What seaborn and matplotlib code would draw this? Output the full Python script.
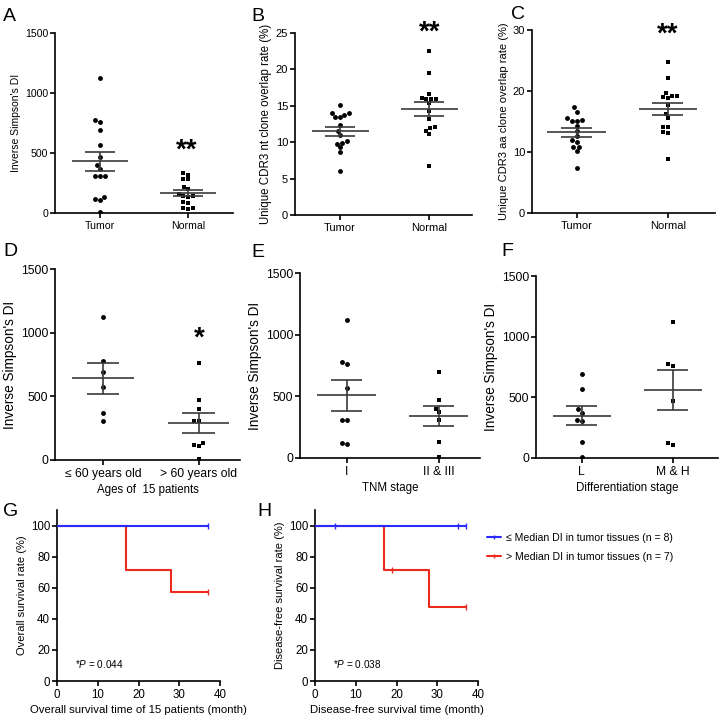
import numpy as np
import pandas as pd
import matplotlib
matplotlib.use("Agg")
import matplotlib.pyplot as plt
from matplotlib.lines import Line2D
import seaborn as sns

# ---------------- data ----------------
groups_tn = ["Tumor", "Normal"]
a_tumor = [1121, 775, 760, 695, 570, 470, 400, 370, 310, 310, 305, 130, 120, 110, 10]
a_normal = [330, 320, 285, 280, 215, 200, 160, 145, 140, 135, 90, 80, 45, 40, 35]
b_tumor = [15.1, 14.0, 13.5, 13.4, 13.8, 14.0, 12.3, 11.6, 11.0, 10.2, 9.8, 9.9, 9.3, 8.6, 6.0]
b_normal = [22.5, 19.5, 16.1, 15.9, 16.6, 16.0, 16.0, 15.4, 14.3, 13.2, 12.0, 11.6, 12.1, 11.1, 6.7]
c_tumor = [17.3, 15.1, 16.6, 15.1, 15.5, 15.2, 14.3, 13.5, 12.7, 12.0, 11.7, 10.8, 10.9, 10.2, 7.3]
c_normal = [24.8, 22.1, 19.2, 19.0, 18.9, 19.2, 19.6, 17.7, 16.3, 15.6, 14.1, 14.1, 13.2, 13.1, 8.9]

groups_age = ["\u2264 60 years old", "> 60 years old"]
d_young = [1121, 775, 695, 570, 370, 310]
d_old = [760, 470, 400, 310, 305, 130, 120, 110, 10]

groups_tnm = ["I", "II & III"]
e_I = [1121, 775, 760, 570, 310, 310, 120, 110]
e_II = [695, 470, 400, 370, 310, 130, 10]

groups_diff = ["L", "M & H"]
f_L = [695, 570, 400, 370, 310, 305, 130, 10]
f_MH = [1121, 775, 760, 470, 120, 110]

# Kaplan-Meier step points (time in months, survival %)
g_low_t, g_low_s = [0, 37], [100, 100]
g_high_t, g_high_s = [0, 17, 28, 37], [100, 71.4, 57.1, 57.1]
g_low_cens_t, g_low_cens_s = [37], [100]
g_high_cens_t, g_high_cens_s = [37], [57.1]

h_low_t, h_low_s = [0, 37], [100, 100]
h_high_t, h_high_s = [0, 17, 28, 37], [100, 71.4, 47.6, 47.6]
h_low_cens_t, h_low_cens_s = [5, 35, 37], [100, 100, 100]
h_high_cens_t, h_high_cens_s = [19, 37], [71.4, 47.6]

legend_labels = ["\u2264 Median DI in tumor tissues (n = 8)",
                 "> Median DI in tumor tissues (n = 7)"]

# ---------------- style ----------------
sns.set_theme(style="ticks")
plt.rcParams["font.family"] = ["Liberation Sans", "DejaVu Sans"]
plt.rcParams.update({
    "axes.linewidth": 1.2,
    "axes.edgecolor": "black",
    "xtick.major.width": 1.2,
    "ytick.major.width": 1.2,
    "xtick.major.size": 3.5,
    "ytick.major.size": 3.5,
    "xtick.major.pad": 2,
    "ytick.major.pad": 1.5,
    "xtick.labelsize": 8,
    "ytick.labelsize": 8,
    "xtick.color": "black",
    "ytick.color": "black",
    "axes.labelcolor": "black",
    "text.color": "black",
    "mathtext.fontset": "custom",
    "mathtext.it": "Liberation Sans:italic",
    "mathtext.rm": "Liberation Sans",
})

W, H = 720, 716
fig = plt.figure(figsize=(W / 100, H / 100), dpi=100)


def px_axes(l, t, r, b):
    return fig.add_axes([l / W, 1 - b / H, (r - l) / W, (b - t) / H])


LINE_C = "#3a3a3a"


def dot_panel(ax, groups, g1, g2, ylim, yticks, ylabel, xlim, xlabel=None,
              tick_fs=8, ylabel_fs=8, xlabel_fs=8.3):
    df1 = pd.DataFrame({"group": groups[0], "value": g1})
    df2 = pd.DataFrame({"group": groups[1], "value": g2})
    sns.swarmplot(data=df1, x="group", y="value", order=groups, ax=ax,
                  color="black", marker="o", size=3.5, linewidth=0)
    sns.swarmplot(data=df2, x="group", y="value", order=groups, ax=ax,
                  color="black", marker="s", size=3.3, linewidth=0)
    for i, vals in enumerate([g1, g2]):
        v = np.asarray(vals, dtype=float)
        m = v.mean()
        se = v.std(ddof=1) / np.sqrt(len(v))
        ax.hlines(m, i - 0.32, i + 0.32, color=LINE_C, lw=1.2, zorder=3)
        ax.hlines([m - se, m + se], i - 0.17, i + 0.17, color=LINE_C, lw=1.2, zorder=3)
        ax.vlines(i, m - se, m + se, color=LINE_C, lw=1.2, zorder=3)
    ax.set_ylim(*ylim)
    ax.set_yticks(yticks)
    ax.set_xlim(*xlim)
    ax.tick_params(labelsize=tick_fs)
    ax.set_ylabel(ylabel, fontsize=ylabel_fs, labelpad=3)
    ax.set_xlabel(xlabel if xlabel else "", fontsize=xlabel_fs, labelpad=3)
    sns.despine(ax=ax)


axA = px_axes(55, 33, 233, 213)
dot_panel(axA, groups_tn, a_tumor, a_normal, (0, 1500), [0, 500, 1000, 1500],
          "Inverse Simpson's DI", (-0.51, 1.51), tick_fs=7.6, ylabel_fs=7.5)
axB = px_axes(295, 33, 472, 215)
dot_panel(axB, groups_tn, b_tumor, b_normal, (0, 25), [0, 5, 10, 15, 20, 25],
          "Unique CDR3 nt clone overlap rate (%)", (-0.506, 1.48),
          tick_fs=8, ylabel_fs=8.3)
axC = px_axes(532, 30, 715, 213)
dot_panel(axC, groups_tn, c_tumor, c_normal, (0, 30), [0, 10, 20, 30],
          "Unique CDR3 aa clone overlap rate (%)", (-0.49, 1.52),
          tick_fs=8, ylabel_fs=8)
axD = px_axes(55, 269, 240, 460)
dot_panel(axD, groups_age, d_young, d_old, (0, 1500), [0, 500, 1000, 1500],
          "Inverse Simpson's DI", (-0.5, 1.43), "Ages of  15 patients",
          tick_fs=8.7, ylabel_fs=9.8)
axE = px_axes(300, 273, 480, 458)
dot_panel(axE, groups_tnm, e_I, e_II, (0, 1500), [0, 500, 1000, 1500],
          "Inverse Simpson's DI", (-0.51, 1.45), "TNM stage",
          tick_fs=8.7, ylabel_fs=9.8)
axF = px_axes(536, 276, 718, 458)
dot_panel(axF, groups_diff, f_L, f_MH, (0, 1500), [0, 500, 1000, 1500],
          "Inverse Simpson's DI", (-0.505, 1.5), "Differentiation stage",
          tick_fs=8.7, ylabel_fs=9.8)

# significance stars
star_kw = dict(ha="center", va="center", fontsize=20, fontweight="bold",
               clip_on=False)
axA.text(0.98, 520, "**", **star_kw)
axB.text(1.0, 25.0, "**", **star_kw)
axC.text(1.0, 29.3, "**", **star_kw)
axD.text(1.0, 950, "*", **star_kw)

# ---------------- KM panels ----------------
BLUE = "#2b2bff"
RED = "#ee2a1e"


def km_panel(ax, lt, ls, ht, hs, lct, lcs, hct, hcs, ylabel, xlabel, ptext):
    sns.lineplot(x=lt, y=ls, ax=ax, color=BLUE, lw=1.5, drawstyle="steps-post",
                 estimator=None, sort=False, zorder=4)
    sns.lineplot(x=ht, y=hs, ax=ax, color=RED, lw=1.5, drawstyle="steps-post",
                 estimator=None, sort=False, zorder=3)
    sns.scatterplot(x=lct, y=lcs, ax=ax, marker="|", s=18, color=BLUE,
                    linewidth=1.0, zorder=5)
    sns.scatterplot(x=hct, y=hcs, ax=ax, marker="|", s=18, color=RED,
                    linewidth=1.0, zorder=5)
    ax.set_xlim(0, 40)
    ax.set_ylim(0, 110)
    ax.set_xticks([0, 10, 20, 30, 40])
    ax.set_yticks([0, 20, 40, 60, 80, 100])
    ax.tick_params(labelsize=8.3)
    ax.set_ylabel(ylabel, fontsize=8, labelpad=3)
    ax.set_xlabel(xlabel, fontsize=8.2, labelpad=3)
    ax.text(4.3, 11, ptext, fontsize=7.2, ha="left", va="center")
    sns.despine(ax=ax)


axG = px_axes(57, 510, 220, 681)
km_panel(axG, g_low_t, g_low_s, g_high_t, g_high_s, g_low_cens_t, g_low_cens_s,
         g_high_cens_t, g_high_cens_s, "Overall survival rate (%)",
         "Overall survival time of 15 patients (month)", r"*$\mathit{P}$ = 0.044")
axH = px_axes(315, 510, 478, 681)
km_panel(axH, h_low_t, h_low_s, h_high_t, h_high_s, h_low_cens_t, h_low_cens_s,
         h_high_cens_t, h_high_cens_s, "Disease-free survival rate (%)",
         "Disease-free survival time (month)", r"*$\mathit{P}$ = 0.038")

handles = [Line2D([], [], color=BLUE, lw=1.5, marker="|", markersize=3),
           Line2D([], [], color=RED, lw=1.5, marker="|", markersize=3)]
fig.legend(handles, legend_labels, loc="upper left",
           bbox_to_anchor=(487 / W, 1 - 533 / H), frameon=False, fontsize=7.6,
           handlelength=1.3, handletextpad=0.5, labelspacing=0.85,
           borderaxespad=0, borderpad=0)

# panel letters
letters = [("A", 3, 8), ("B", 251, 8), ("C", 511, 6), ("D", 3, 243),
           ("E", 251, 244), ("F", 501, 243), ("G", 3, 503), ("H", 257, 503)]
for t, x, y in letters:
    fig.text(x / W, 1 - y / H, t, fontsize=14, ha="left", va="top")

fig.savefig("out.png", dpi=100)
